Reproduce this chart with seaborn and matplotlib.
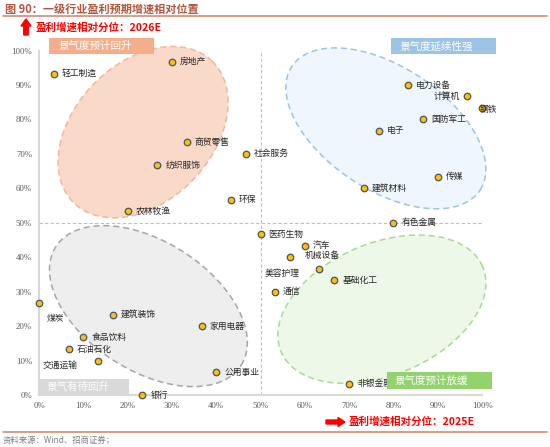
import numpy as np
import pandas as pd
import matplotlib
matplotlib.use("Agg")
import matplotlib.pyplot as plt
import matplotlib.patches as mpatches
import seaborn as sns

# 一级行业：2025E / 2026E 盈利增速相对分位 (%)
industries = ["轻工制造", "房地产", "商贸零售", "社会服务", "纺织服饰", "环保", "农林牧渔",
              "电力设备", "计算机", "钢铁", "国防军工", "电子", "传媒", "建筑材料", "有色金属",
              "医药生物", "汽车", "机械设备", "美容护理", "基础化工", "通信",
              "煤炭", "建筑装饰", "家用电器", "食品饮料", "石油石化", "交通运输", "公用事业",
              "银行", "非银金融"]
pct_2025 = [3.3, 30.0, 33.3, 46.7, 26.7, 43.3, 20.0,
            83.3, 96.7, 100.0, 86.7, 76.7, 90.0, 73.3, 80.0,
            50.0, 60.0, 56.7, 63.3, 66.7, 53.3,
            0.0, 16.7, 36.7, 10.0, 6.7, 13.3, 40.0,
            23.3, 70.0]
pct_2026 = [93.3, 96.7, 73.3, 70.0, 66.7, 56.7, 53.3,
            90.0, 86.7, 83.3, 80.0, 76.7, 63.3, 60.0, 50.0,
            46.7, 43.3, 40.0, 36.7, 33.3, 30.0,
            26.7, 23.3, 20.0, 16.7, 13.3, 10.0, 6.7,
            0.0, 3.3]
ticks = [0, 10, 20, 30, 40, 50, 60, 70, 80, 90, 100]
tick_labels = [f"{t}%" for t in ticks]

df = pd.DataFrame({"industry": industries, "x": pct_2025, "y": pct_2026})

sns.set_style("white")
plt.rcParams["font.family"] = ["Noto Sans CJK SC", "DejaVu Sans"]
cjk = ["Noto Sans CJK SC", "DejaVu Sans"]

fig = plt.figure(figsize=(5.5, 4.47), dpi=100)
ax = fig.add_axes([39 / 550, 52 / 447, 443 / 550, 344.5 / 447])
sx, sy = 4.43, 3.445  # pixels per percent


def ellipse(cx, cy, a, b, ang, face, edge):
    t = np.linspace(0, 2 * np.pi, 200)
    th = np.deg2rad(ang)
    px = a * np.cos(t) * np.cos(th) - b * np.sin(t) * np.sin(th)
    py = a * np.cos(t) * np.sin(th) + b * np.sin(t) * np.cos(th)
    ax.fill(cx + px / sx, cy + py / sy, facecolor=face, edgecolor=edge,
            linestyle=(0, (4, 2.5)), linewidth=1.1, zorder=1, clip_on=False)


ellipse(23.5, 76.3, 99, 69, 45.7, "#F9D9C8", "#F2B79C")
ellipse(78.3, 77.4, 112.6, 61.6, -33.3, "#EFF6FD", "#9DC3E6")
ellipse(24.7, 25.8, 110, 64.5, -32.7, "#EEEEEE", "#A6A6A6")
ellipse(77.4, 24.9, 109.4, 66, 22.8, "#EEF8E9", "#A9DB90")

ax.plot([50, 50], [0, 101], color="#BFBFBF", lw=0.8, ls=(0, (3, 2)), zorder=1.5)
ax.plot([0, 101], [50, 50], color="#BFBFBF", lw=0.8, ls=(0, (3, 2)), zorder=1.5)

sns.scatterplot(data=df, x="x", y="y", ax=ax, s=22, color="#FFC000",
                edgecolor="#44546A", linewidth=0.9, zorder=3, clip_on=False, legend=False)

special = {
    "计算机": (-7, 0, "right"),
    "钢铁": (-2, -1, "left"),
    "煤炭": (8, -15, "left"),
    "交通运输": (-20, -5, "right"),
    "美容护理": (-20, -5, "right"),
    "机械设备": (15, 2, "left"),
}
for name, xv, yv in zip(industries, pct_2025, pct_2026):
    dx, dy, ha = special.get(name, (8, 0, "left"))
    ax.annotate(name, (xv, yv), xytext=(dx, dy), textcoords="offset pixels",
                ha=ha, va="center", fontsize=6.3, color="#262626",
                family=cjk, zorder=4, annotation_clip=False)

boxes = [
    (2.26, 98.98, 23.7, 4.6, "#F4AE8C", "景气度预计回升", 4.3),
    (79.4, 98.9, 23.7, 4.8, "#9DC3E6", "景气度延续性强", 81.3),
    (0.0, 0.0, 20.4, 4.56, "#D9D9D9", "景气有待回升", 1.6),
    (78.5, 1.74, 23.7, 4.85, "#92D36E", "景气度预计放缓", 80.2),
]
for x0, y0, w, h, c, txt, tx in boxes:
    ax.add_patch(mpatches.Rectangle((x0, y0), w, h, facecolor=c, edgecolor="none",
                                    zorder=5, clip_on=False))
    ax.text(tx, y0 + h / 2, txt, color="white", fontsize=7.6, va="center",
            ha="left", family=cjk, zorder=6)

ax.set_xlim(0, 100)
ax.set_ylim(0, 100)
ax.set_xticks(ticks)
ax.set_yticks(ticks)
ax.set_xticklabels(tick_labels, family="Liberation Serif", fontsize=6.3, color="#595959")
ax.set_yticklabels(tick_labels, family="Liberation Serif", fontsize=6.3, color="#595959")
ax.tick_params(length=0, pad=5)
ax.set_xlabel("")
ax.set_ylabel("")
for s in ["top", "right"]:
    ax.spines[s].set_visible(False)
for s in ["left", "bottom"]:
    ax.spines[s].set_color("#D9D9D9")
    ax.spines[s].set_linewidth(1.5)
ax.patch.set_alpha(0)

# title, rules, axis captions
fig.text(5 / 550, 1 - 9 / 447, "图 90：一级行业盈利预期增速相对位置", fontsize=8,
         color="#B5553C", fontweight="bold", va="center", ha="left", family=cjk)
fig.add_artist(plt.Line2D([3 / 550, 547 / 550], [1 - 16 / 447] * 2, color="#CF8E78", lw=1.2))
fig.add_artist(plt.Line2D([3 / 550, 547 / 550], [1 - 432 / 447] * 2, color="#CF8E78", lw=1.2))
fig.text(3 / 550, 1 - 440 / 447, "资料来源：Wind、招商证券；", fontsize=6, color="#7F7F7F",
         va="center", ha="left", family=cjk)

fig.patches.append(mpatches.FancyArrow(0.26, 4.12, 0, 0.16, width=0.045, head_width=0.10,
                                       head_length=0.07, length_includes_head=True,
                                       color="red", transform=fig.dpi_scale_trans))
fig.text(36 / 550, 1 - 28 / 447, "盈利增速相对分位：2026E", fontsize=7.6, color="red",
         fontweight="bold", va="center", ha="left", family=cjk)
fig.patches.append(mpatches.FancyArrow(3.26, 0.25, 0.19, 0, width=0.04, head_width=0.09,
                                       head_length=0.07, length_includes_head=True,
                                       color="red", transform=fig.dpi_scale_trans))
fig.text(349 / 550, 1 - 422 / 447, "盈利增速相对分位：2025E", fontsize=7.6, color="red",
         fontweight="bold", va="center", ha="left", family=cjk)

fig.savefig("out.png", dpi=100)
